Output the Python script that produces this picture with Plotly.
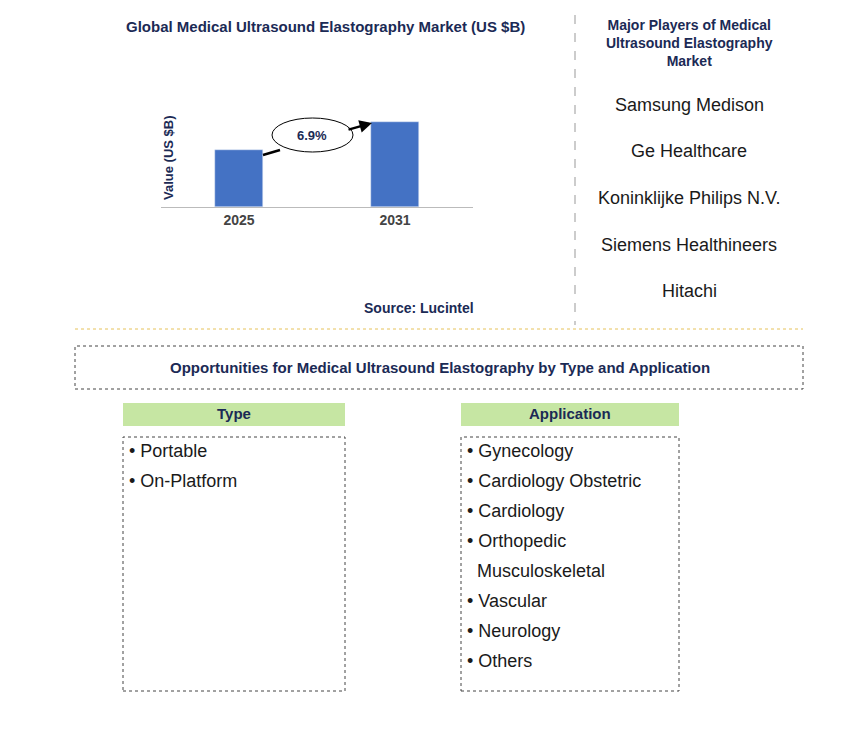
import plotly.graph_objects as go

W, H = 868, 732
years = ["2025", "2031"]
values = [1.9, 2.83]
cagr = "6.9%"
players = ["Samsung Medison", "Ge Healthcare", "Koninklijke Philips N.V.",
           "Siemens Healthineers", "Hitachi"]
types = ["Portable", "On-Platform"]
applications = ["Gynecology", "Cardiology Obstetric", "Cardiology", "Orthopedic",
                "  Musculoskeletal", "Vascular", "Neurology", "Others"]

NAVY = "#1b2a55"
FONT = "Liberation Sans, Arial, sans-serif"
OFF = 8  # page body margin


def px(x):
    return (x - OFF) / W


def py(y):
    return 1 - (y - OFF) / H


fig = go.Figure()
fig.add_trace(go.Bar(x=years, y=values, marker_color="#4472c4", width=0.31))

shapes, ann = [], []


def rect(x0, y0, x1, y1, line=None, fill=None, dash="dot"):
    shapes.append(dict(type="rect", xref="paper", yref="paper",
                       x0=px(x0), x1=px(x1), y0=py(y1), y1=py(y0),
                       line=dict(color=line or "rgba(0,0,0,0)", width=1, dash=dash),
                       fillcolor=fill or "rgba(0,0,0,0)", layer="below"))


def text(x, y, s, size=16, bold=False, color="#1a1a1a", xa="center", angle=0):
    ann.append(dict(xref="paper", yref="paper", x=px(x), y=py(y), text=f"<b>{s}</b>" if bold else s,
                    showarrow=False, xanchor=xa, yanchor="middle", align="center", textangle=angle,
                    font=dict(size=size, color=color, family=FONT)))


text(325, 26, "Global Medical Ultrasound Elastography Market (US $B)", 15, True, NAVY)
text(419, 308, "Source: Lucintel", 14, True, NAVY)
text(689, 43, "Major Players of Medical<br>Ultrasound Elastography<br>Market", 14, True, NAVY)
for i, p in enumerate(players):
    text(689, 105 + i * 46.5, p, 18)
text(168, 158, "Value (US $B)", 13, True, NAVY, angle=-90)

# growth arrow (split around the ellipse)
shapes.append(dict(type="line", xref="paper", yref="paper", x0=px(263), y0=py(155),
                   x1=px(280), y1=py(150), line=dict(color="black", width=2.5)))
ann.append(dict(xref="paper", yref="paper", x=px(372), y=py(123), ax=-25, ay=7,
                showarrow=True, arrowhead=2, arrowsize=1,
                arrowwidth=2.5, arrowcolor="black", text=""))
shapes.append(dict(type="circle", xref="paper", yref="paper", x0=px(272), x1=px(353),
                   y0=py(152), y1=py(118), line=dict(color="black", width=1), fillcolor="white"))
text(312, 135, cagr, 13, True, NAVY)

shapes.append(dict(type="line", xref="paper", yref="paper", x0=px(575), x1=px(575),
                   y0=py(15), y1=py(325), line=dict(color="#999", width=1, dash="dash")))
shapes.append(dict(type="line", xref="paper", yref="paper", x0=px(75), x1=px(803),
                   y0=py(329), y1=py(329), line=dict(color="#e6c25a", width=1, dash="dot")))

rect(75, 346, 803, 389, "#444")
text(440, 367, "Opportunities for Medical Ultrasound Elastography by Type and Application", 15, True, NAVY)
rect(123, 403, 345, 426, fill="#c6e6a3")
text(234, 414, "Type", 15, True, NAVY)
rect(461, 403, 679, 426, fill="#c6e6a3")
text(570, 414, "Application", 15, True, NAVY)
rect(123, 437, 345, 691, "#444")
rect(461, 437, 679, 691, "#444")
for i, t in enumerate(types):
    text(127, 451 + i * 30, "• " + t, 18, xa="left")
for i, a in enumerate(applications):
    s = a if a.startswith(" ") else "• " + a
    text(465, 451 + i * 30, s, 18, xa="left")

fig.update_layout(
    width=W, height=H, margin=dict(l=0, r=0, t=0, b=0),
    plot_bgcolor="white", paper_bgcolor="white", showlegend=False,
    shapes=shapes, annotations=ann, bargap=0,
    xaxis=dict(domain=[px(161), px(473)], showline=True, linecolor="#bbb",
               tickfont=dict(size=14, color="#444", family=FONT), ticks="", tickprefix="<b>", ticksuffix="</b>"),
    yaxis=dict(domain=[py(207), py(90)], range=[0, 1.9 * 117 / 57], showticklabels=False,
               showgrid=False, zeroline=False),
)
fig.write_html("out.html")
